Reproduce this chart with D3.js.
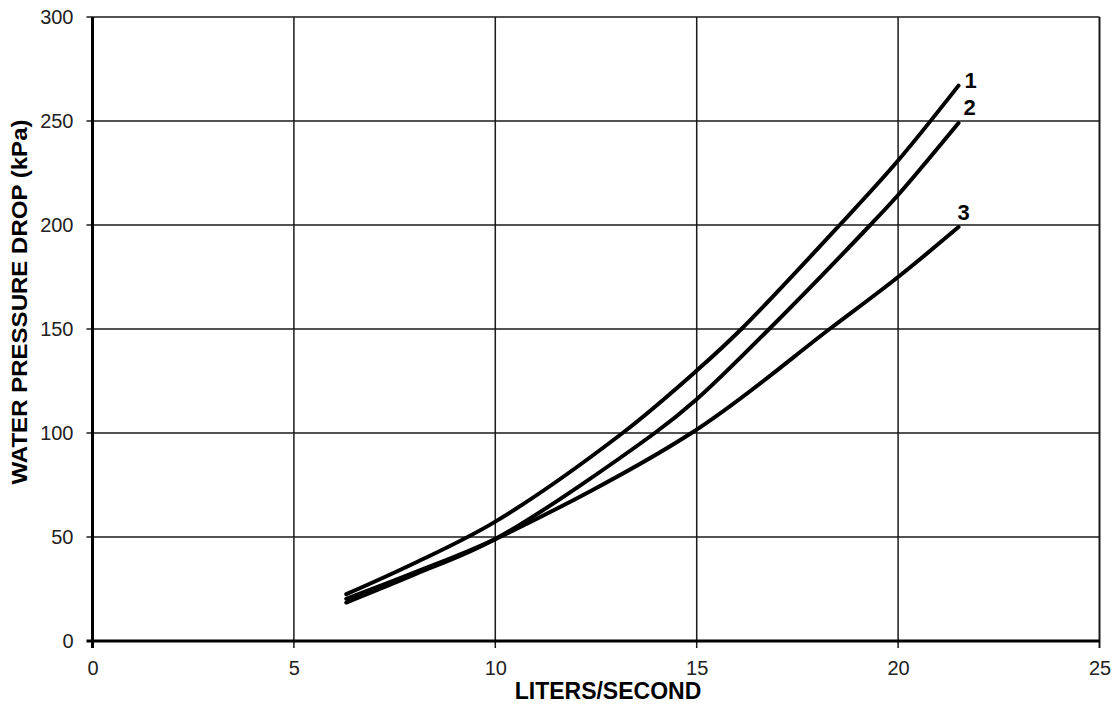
<!DOCTYPE html>
<html>
<head>
<meta charset="utf-8">
<script src="https://cdn.jsdelivr.net/npm/d3@7"></script>
<style>
  html, body { margin: 0; padding: 0; background: #ffffff; }
  svg { display: block; }
</style>
</head>
<body>
<svg id="chart" width="1118" height="704"></svg>
<script>
// ---- data ----
const xTicks = [0, 5, 10, 15, 20, 25];
const yTicks = [0, 50, 100, 150, 200, 250, 300];
const seriesNames = ["1", "2", "3"];
const flow1 = [6.3, 8, 10, 13.16, 15, 16.11, 18.55, 20, 21.5];
const drop1 = [22.5, 37.5, 57.4, 100, 130, 150, 200, 231, 267];
const flow2 = [6.3, 8, 10, 13.96, 15, 16.8, 19.31, 20, 21.5];
const drop2 = [18.5, 32, 49, 100, 116.2, 150, 200, 214.4, 249];
const flow3 = [6.3, 8, 10, 14.87, 18.3, 20, 21.5];
const drop3 = [20.3, 33, 49, 100, 150, 175, 199];
const xLabel = "LITERS/SECOND";
const yLabel = "WATER PRESSURE DROP (kPa)";

const series = [
  { name: seriesNames[0], xs: flow1, ys: drop1, dx: 6, dy: 2 },
  { name: seriesNames[1], xs: flow2, ys: drop2, dx: 5, dy: -8 },
  { name: seriesNames[2], xs: flow3, ys: drop3, dx: -1, dy: -7 }
];

const svg = d3.select("#chart");
const mLeft = 92.5, mRight = 1099.5, mTop = 17, mBottom = 641;
const x = d3.scaleLinear().domain([0, 25]).range([mLeft, mRight]);
const y = d3.scaleLinear().domain([0, 300]).range([mBottom, mTop]);

const font = "Liberation Sans, Arial, Helvetica, sans-serif";

// gridlines
const g = svg.append("g");
g.selectAll("line.hg").data(yTicks.filter(d => d > 0)).enter().append("line")
  .attr("x1", x(0) - 6).attr("x2", x(25))
  .attr("y1", d => y(d)).attr("y2", d => y(d))
  .attr("stroke", "#1a1a1a").attr("stroke-width", 1.5);
g.selectAll("line.vg").data(xTicks.filter(d => d > 0)).enter().append("line")
  .attr("x1", d => x(d)).attr("x2", d => x(d))
  .attr("y1", y(300)).attr("y2", y(0) + 7)
  .attr("stroke", "#1a1a1a").attr("stroke-width", d => d === 25 ? 2 : 1.5);

// axes (left & bottom thicker)
svg.append("line").attr("x1", x(0)).attr("x2", x(0)).attr("y1", y(300)).attr("y2", y(0) + 7)
  .attr("stroke", "#000").attr("stroke-width", 3);
svg.append("line").attr("x1", x(0) - 6).attr("x2", x(25)).attr("y1", y(0)).attr("y2", y(0))
  .attr("stroke", "#000").attr("stroke-width", 3);

// tick labels via d3 axes
const yAxis = d3.axisLeft(y).tickValues(yTicks).tickSize(0).tickPadding(19);
const ya = svg.append("g").attr("transform", `translate(${x(0)},0)`).call(yAxis);
ya.select(".domain").remove();
ya.selectAll("text").attr("font-family", font).attr("font-size", 20).attr("fill", "#222");

const xAxis = d3.axisBottom(x).tickValues(xTicks).tickSize(0).tickPadding(20);
const xa = svg.append("g").attr("transform", `translate(0,${y(0)})`).call(xAxis);
xa.select(".domain").remove();
xa.selectAll("text").attr("font-family", font).attr("font-size", 20).attr("fill", "#222");

// axis titles
svg.append("text").attr("x", 608).attr("y", 699).attr("text-anchor", "middle")
  .attr("font-family", font).attr("font-size", 23).attr("font-weight", "bold").attr("fill", "#000")
  .text(xLabel);
svg.append("text").attr("transform", "translate(27,302) rotate(-90)").attr("text-anchor", "middle")
  .attr("font-family", font).attr("font-size", 22).attr("font-weight", "bold").attr("fill", "#000")
  .attr("textLength", 365).attr("lengthAdjust", "spacingAndGlyphs")
  .text(yLabel);

// curves
const line = d3.line().x(d => x(d[0])).y(d => y(d[1])).curve(d3.curveCatmullRom.alpha(0.5));
series.forEach(s => {
  const pts = s.xs.map((v, i) => [v, s.ys[i]]);
  svg.append("path").attr("d", line(pts)).attr("fill", "none")
    .attr("stroke", "#000").attr("stroke-width", 4).attr("stroke-linecap", "round");
  const last = pts[pts.length - 1];
  svg.append("text").attr("x", x(last[0]) + s.dx).attr("y", y(last[1]) + s.dy)
    .attr("font-family", font).attr("font-size", 22).attr("font-weight", "bold").attr("fill", "#000")
    .text(s.name);
});
</script>
</body>
</html>
